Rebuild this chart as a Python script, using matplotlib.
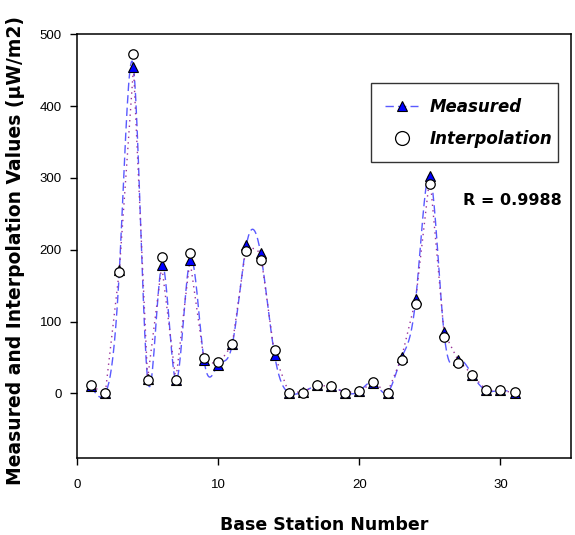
import numpy as np
import matplotlib.pyplot as plt
from matplotlib.lines import Line2D

plt.rcParams['font.family'] = ['Liberation Sans', 'DejaVu Sans']

# base station numbers
station = np.arange(1, 32)

# measured values (uW/m2)
measured = np.array([10, 0, 172, 454, 20, 178, 18, 186, 46, 40,
                     68, 207, 196, 53, 1, 2, 11, 10, 1, 3,
                     15, 1, 50, 131, 303, 85, 46, 26, 4, 4, 1])

# interpolation values (uW/m2)
interp = np.array([11, 1, 169, 472, 19, 190, 18, 195, 49, 43,
                   68, 198, 185, 61, 1, 1, 11, 10, 1, 3,
                   16, 1, 47, 124, 291, 79, 42, 26, 4, 4, 2])

r_text = 'R = 0.9988'


#natural cubic spline, used only to draw the smooth dashed line
def spline(x, y, n=20):
  k = len(x)
  h = np.diff(x).astype(float)
  A = np.zeros((k, k))
  b = np.zeros(k)
  A[0, 0] = 1
  A[-1, -1] = 1
  for i in range(1, k-1):
    A[i, i-1] = h[i-1]
    A[i, i] = 2*(h[i-1]+h[i])
    A[i, i+1] = h[i]
    b[i] = 6*((y[i+1]-y[i])/h[i] - (y[i]-y[i-1])/h[i-1])
  M = np.linalg.solve(A, b)
  xs, ys = [], []
  for i in range(k-1):
    t = np.linspace(x[i], x[i+1], n, endpoint=False)
    a = (x[i+1]-t)/h[i]
    c = (t-x[i])/h[i]
    s = (a*y[i] + c*y[i+1]
         + ((a**3-a)*M[i] + (c**3-c)*M[i+1])*h[i]**2/6)
    xs.append(t)
    ys.append(s)
  xs.append([x[-1]])
  ys.append([y[-1]])
  return np.concatenate(xs), np.concatenate(ys)


fig = plt.figure(figsize=(5.75, 5.35), dpi=100)
ax = fig.add_axes([0.134, 0.144, 0.859, 0.792])

xs, ys = spline(station, measured)
ax.plot(xs, ys, color='#5a5aff', lw=1.0, ls=(0, (6, 3)), zorder=2)
ax.plot(station, measured, color='#993399', lw=1.0, ls=(0, (1, 3)), zorder=2)

ax.plot(station, measured, ls='none', marker='^', ms=7,
        mfc='#0000ff', mec='black', mew=0.8, zorder=3)
ax.plot(station, interp, ls='none', marker='o', ms=6.8,
        mfc='white', mec='black', mew=0.9, zorder=4)

ax.set_xlim(0, 35)
ax.set_ylim(-90, 500)
ax.set_xticks([0, 10, 20, 30])
ax.set_yticks([0, 100, 200, 300, 400, 500])
ax.tick_params(direction='out', length=5, width=1, labelsize=9.5, pad=6)
ax.tick_params(axis='x', pad=10)
for s in ax.spines.values():
  s.set_linewidth(1.1)

bold = {'family': 'DejaVu Sans', 'weight': 'bold'}
ax.set_xlabel('Base Station Number', fontdict=bold, fontsize=12.5, labelpad=18)
ax.set_ylabel('Measured and Interpolation Values (µW/m2)', fontdict=bold,
              fontsize=13.5, labelpad=10)
ax.yaxis.set_label_coords(-0.105, 0.49)

handles = [Line2D([], [], color='#5a5aff', lw=1.0, ls=(0, (6, 3)), marker='^',
                  ms=7, mfc='#0000ff', mec='black', mew=0.8),
           Line2D([], [], ls='none', marker='o', ms=10, mfc='white',
                  mec='black', mew=0.9)]
leg = ax.legend(handles, ['Measured', 'Interpolation'],
                loc='upper left', bbox_to_anchor=(0.595, 0.693, 0.3785, 0.191),
                mode='expand',
                prop={'family': 'DejaVu Sans', 'weight': 'bold',
                      'style': 'italic', 'size': 12},
                frameon=True, fancybox=False, edgecolor='black',
                handlelength=2.0, handletextpad=0.7, borderpad=0.85,
                labelspacing=0.85, borderaxespad=0)
leg.get_frame().set_linewidth(1.0)

ax.text(0.781, 0.608, r_text, transform=ax.transAxes, fontsize=11.5,
        fontfamily='DejaVu Sans', fontweight='bold', va='center')

fig.savefig('out.png', dpi=100)
